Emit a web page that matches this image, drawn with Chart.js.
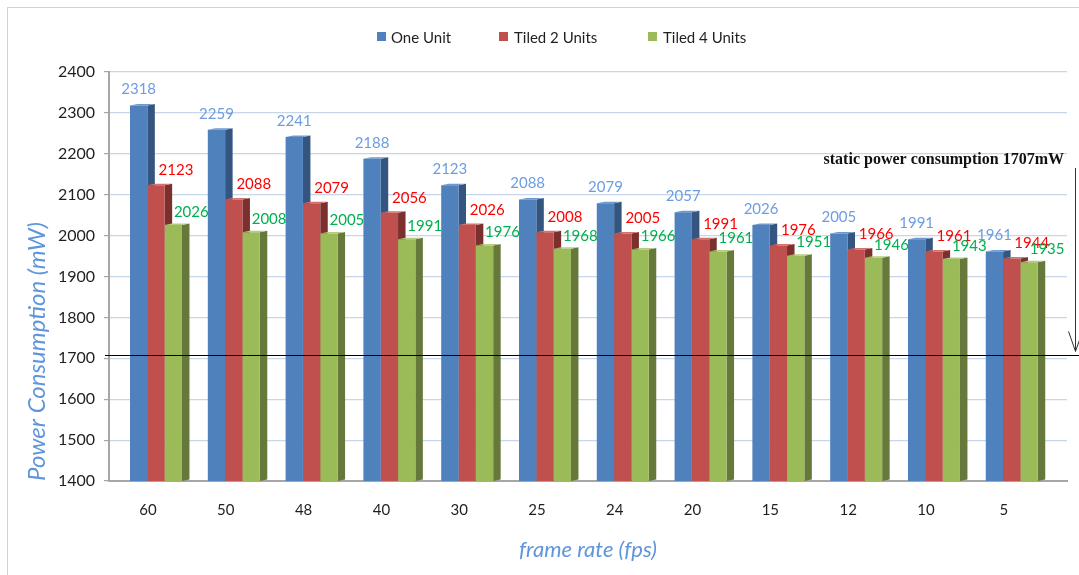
<!DOCTYPE html>
<html>
<head>
<meta charset="utf-8">
<script src="https://cdn.jsdelivr.net/npm/chart.js@4/dist/chart.umd.min.js"></script>
<style>
  html, body { margin: 0; padding: 0; background: #ffffff; }
  #wrap { position: relative; width: 1079px; height: 575px; overflow: hidden; background: #ffffff; }
  #frame { position: absolute; left: 7px; top: 7px; width: 1080px; height: 580px;
           border-left: 1px solid #d2d2d2; border-top: 1px solid #d2d2d2; box-sizing: border-box; }
  #c { position: absolute; left: 0; top: 0; }
  .lg { position: absolute; font-family: Lato, "Open Sans", sans-serif; font-size: 15px;
        line-height: 18px; color: #1f1f1f; white-space: nowrap; }
  .sw { position: absolute; width: 9px; height: 9px; }
</style>
</head>
<body>
<div id="wrap">
  <div id="frame"></div>
  <canvas id="c" width="1079" height="575"></canvas>
  <div class="sw" style="left:377px; top:32px; background:#4f81bd"></div>
  <div class="lg" style="left:391px; top:28px">One Unit</div>
  <div class="sw" style="left:499px; top:32px; background:#c0504d"></div>
  <div class="lg" style="left:514px; top:28px">Tiled 2 Units</div>
  <div class="sw" style="left:648px; top:32px; background:#9bbb59"></div>
  <div class="lg" style="left:663px; top:28px">Tiled 4 Units</div>
</div>
<script>
// Frame rates on the category axis
const categories = ['60', '50', '48', '40', '30', '25', '24', '20', '15', '12', '10', '5'];

// Power consumption in mW for each configuration
const oneUnit = [2318, 2259, 2241, 2188, 2123, 2088, 2079, 2057, 2026, 2005, 1991, 1961];
const tiled2  = [2123, 2088, 2079, 2056, 2026, 2008, 2005, 1991, 1976, 1966, 1961, 1944];
const tiled4  = [2026, 2008, 2005, 1991, 1976, 1968, 1966, 1961, 1951, 1946, 1943, 1935];

// Value axis range
const yMin = 1400;
const yMax = 2400;
const yStep = 100;

// Static power level marked across the chart
const staticPower = 1707;
const staticLabel = 'static power consumption 1707mW';

const seriesNames = ['One Unit', 'Tiled 2 Units', 'Tiled 4 Units'];
const seriesValues = [oneUnit, tiled2, tiled4];

const frontColors = ['#4f81bd', '#c0504d', '#9bbb59'];
const sideColors  = ['#34557f', '#7b302e', '#66793a'];
const topColors   = ['#7199cc', '#d27370', '#b3cc80'];
const labelColors = ['#6d9de0', '#ff0000', '#00b050'];
const labelShift  = [[0, -16], [20, -15], [18, -13]];

const DEPTH = 7.5;   // horizontal extent of the bar side face
const LIFT = 1.5;    // vertical lift of the side face

// Side and top faces drawn before the fronts, so a neighbouring front hides them
const barDepth = {
  id: 'barDepth',
  beforeDatasetsDraw(chart) {
    const ctx = chart.ctx;
    const floor = chart.chartArea.bottom;
    ctx.save();
    chart.data.datasets.forEach((ds, di) => {
      const meta = chart.getDatasetMeta(di);
      meta.data.forEach(bar => {
        const r = bar.x + bar.width / 2;
        const l = bar.x - bar.width / 2;
        const b = Math.min(bar.base, floor);
        ctx.fillStyle = sideColors[di];
        ctx.beginPath();
        ctx.moveTo(r, bar.y);
        ctx.lineTo(r + DEPTH, bar.y - LIFT);
        ctx.lineTo(r + DEPTH, b - LIFT);
        ctx.lineTo(r, b);
        ctx.closePath();
        ctx.fill();
        ctx.fillStyle = topColors[di];
        ctx.beginPath();
        ctx.moveTo(l, bar.y);
        ctx.lineTo(l + DEPTH, bar.y - LIFT);
        ctx.lineTo(r + DEPTH, bar.y - LIFT);
        ctx.lineTo(r, bar.y);
        ctx.closePath();
        ctx.fill();
      });
    });
    ctx.restore();
  }
};

// Value labels above the bars
const valueLabels = {
  id: 'valueLabels',
  afterDatasetsDraw(chart) {
    const ctx = chart.ctx;
    ctx.save();
    ctx.font = '15px Lato, "Open Sans", sans-serif';
    ctx.textAlign = 'center';
    ctx.textBaseline = 'middle';
    chart.data.datasets.forEach((ds, di) => {
      const meta = chart.getDatasetMeta(di);
      ctx.fillStyle = labelColors[di];
      meta.data.forEach((bar, i) => {
        ctx.fillText(String(seriesValues[di][i]), bar.x + labelShift[di][0], bar.y + labelShift[di][1]);
      });
    });
    ctx.restore();
  }
};

// Static power line with its note and arrow
const staticMarker = {
  id: 'staticMarker',
  afterDraw(chart) {
    const ctx = chart.ctx;
    const y = chart.scales.y.getPixelForValue(staticPower);
    const left = chart.chartArea.left;
    ctx.save();
    ctx.strokeStyle = '#000000';
    ctx.lineWidth = 1.2;
    ctx.beginPath();
    ctx.moveTo(left - 4, Math.round(y) + 0.5);
    ctx.lineTo(chart.width, Math.round(y) + 0.5);
    ctx.stroke();

    ctx.font = 'bold 16px "Liberation Serif", "DejaVu Serif", serif';
    ctx.fillStyle = '#111111';
    ctx.textAlign = 'right';
    ctx.textBaseline = 'alphabetic';
    ctx.fillText(staticLabel, 1064, 164);

    const ax = 1075.5;
    ctx.strokeStyle = '#333333';
    ctx.lineWidth = 1;
    ctx.beginPath();
    ctx.moveTo(ax, 168);
    ctx.lineTo(ax, y - 4);
    ctx.moveTo(ax - 7, y - 24);
    ctx.lineTo(ax, y - 4);
    ctx.lineTo(ax + 7, y - 24);
    ctx.stroke();
    ctx.restore();
  }
};

const makeData = vals => vals.map((v, i) => ({ x: i, y: v }));

new Chart(document.getElementById('c'), {
  type: 'bar',
  data: {
    datasets: seriesValues.map((vals, di) => ({
      label: seriesNames[di],
      data: makeData(vals),
      backgroundColor: frontColors[di],
      borderWidth: 0,
      barPercentage: 1,
      categoryPercentage: 0.668
    }))
  },
  options: {
    responsive: false,
    animation: false,
    devicePixelRatio: 1,
    layout: { padding: { top: 72, left: 8, right: 12, bottom: 8 } },
    plugins: {
      legend: { display: false },
      tooltip: { enabled: false }
    },
    scales: {
      x: {
        type: 'linear',
        offset: false,
        min: -0.604,
        max: 11.71,
        afterBuildTicks: scale => { scale.ticks = categories.map((c, i) => ({ value: i })); },
        afterFit: scale => { scale.height = 86; },
        grid: { display: false, drawTicks: false, offset: false },
        border: { display: true, color: '#a6a6a6', width: 2 },
        ticks: {
          autoSkip: false,
          maxRotation: 0,
          padding: 20,
          labelOffset: -8,
          color: '#1f1f1f',
          font: { family: 'Lato', size: 15 },
          callback: v => categories[v]
        },
        title: {
          display: true,
          text: 'frame rate (fps)',
          color: '#5f95dc',
          font: { family: 'Lato', size: 22, style: 'italic' },
          padding: { top: 0, bottom: 4 }
        }
      },
      y: {
        min: yMin,
        max: yMax,
        afterFit: scale => { scale.width = 101; },
        grid: { color: '#c8d6ec', lineWidth: 1.2, drawTicks: true, tickLength: 5, tickColor: '#a6a6a6' },
        border: { display: true, color: '#a6a6a6', width: 2 },
        ticks: {
          stepSize: yStep,
          padding: 9,
          color: '#1f1f1f',
          font: { family: 'Lato', size: 16 },
          callback: v => String(v)
        },
        title: {
          display: true,
          text: 'Power Consumption (mW)',
          align: 'start',
          color: '#5f95dc',
          font: { family: 'Lato', size: 24, style: 'italic' },
          padding: { top: 15, bottom: 0 }
        }
      }
    }
  },
  plugins: [barDepth, valueLabels, staticMarker]
});
</script>
</body>
</html>
